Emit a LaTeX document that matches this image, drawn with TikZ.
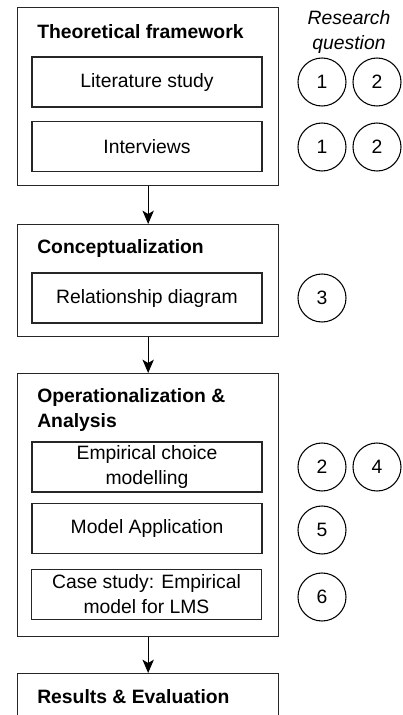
\documentclass[tikz,border=0pt]{standalone}
\usepackage{fontspec}
\setmainfont{Liberation Sans}
\usetikzlibrary{arrows.meta}

\tikzset{
  stage/.style={draw=black!85, line width=1pt, anchor=north west, inner sep=0pt, minimum width=195.75pt},
  task/.style={draw=black!85, line width=1pt, minimum width=172.5pt, minimum height=37.5pt, inner sep=0pt, align=center, font=\fontsize{14.5}{18.75}\selectfont},
  rq/.style={draw=black, circle, line width=0.8pt, minimum size=36pt, inner sep=0pt, font=\fontsize{14.5}{18.75}\selectfont},
  stagetitle/.style={anchor=west, inner sep=0pt, align=left, font=\bfseries\fontsize{14.5}{18.75}\selectfont},
  flow/.style={-{Stealth[length=10pt,width=8.5pt,inset=2.5pt]}, line width=0.9pt},
}

\begin{document}
\begin{tikzpicture}[x=0.75pt,y=0.75pt,yscale=-1,xscale=1]
\clip (0,0) rectangle (403,715);

%Shape: Rectangle [stages]
\node [stage, minimum height=133.5pt] (tf) at (17,7) {};
\node [stage, minimum height=84pt] (con) at (17,224) {};
\node [stage, minimum height=197.25pt] (ana) at (17,373) {};
\node [stage, minimum height=60pt] (res) at (17,673) {};

% Text Node
\node [stagetitle] (tftitle) at (37,32) {Theoretical framework};
% Text Node
\node [stagetitle] (contitle) at (37,248) {Conceptualization};
% Text Node
\node [stagetitle] (anatitle) at (37,409.5) {Operationalization \&\\Analysis};
% Text Node
\node [stagetitle] (restitle) at (37,697) {Results \& Evaluation};

%Shape: Rectangle [tasks]
\node [task] (lit) at (147,82) {Literature study};
\node [task] (int) at (147,146.5) {Interviews};
\node [task] (rel) at (147,298) {Relationship diagram};
\node [task] (ecm) at (147,467) {Empirical choice\\modelling};
\node [task] (app) at (147,528.5) {Model Application};
\node [task] (lms) at (146.5,594.5) {Case study: Empirical\\model for LMS};

% Text Node
\node [align=center, inner sep=0pt, font=\itshape\fontsize{14.5}{18.75}\selectfont] (rqhead) at (349,31.5) {Research\\question};

%Shape: Circle [research questions]
\node [rq] (rqa) at (322,82) {1};
\node [rq] (rqb) at (377,82) {2};
\node [rq] (rqc) at (322,147) {1};
\node [rq] (rqd) at (377,147) {2};
\node [rq] (rqe) at (322,298) {3};
\node [rq] (rqf) at (322,467) {2};
\node [rq] (rqg) at (377,467) {4};
\node [rq] (rqh) at (322,530) {5};
\node [rq] (rqi) at (322,597) {6};

%Straight Lines [flow]
\draw [flow] (tf.south) -- (con.north);
\draw [flow] (con.south) -- (ana.north);
\draw [flow] (ana.south) -- (res.north);

\end{tikzpicture}
\end{document}
